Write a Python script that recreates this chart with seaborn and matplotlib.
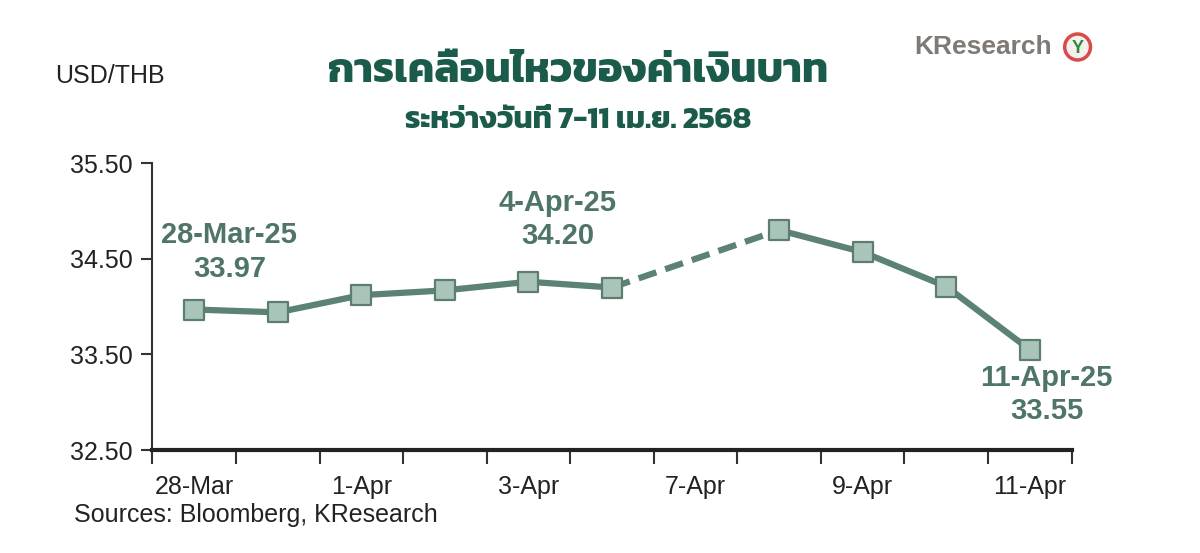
import matplotlib
matplotlib.use("Agg")
import numpy as np
import pandas as pd
import matplotlib.pyplot as plt
import seaborn as sns
from matplotlib.patches import Ellipse

dates = ["28-Mar", "31-Mar", "1-Apr", "2-Apr", "3-Apr", "4-Apr",
         "7-Apr", "8-Apr", "9-Apr", "10-Apr", "11-Apr"]
usdthb = [33.97, 33.94, 34.12, 34.17, 34.26, 34.20, np.nan,
          34.80, 34.57, 34.21, 33.55]
yticks = [32.50, 33.50, 34.50, 35.50]
labels = [("28-Mar-25", "33.97", 0), ("4-Apr-25", "34.20", 5), ("11-Apr-25", "33.55", 10)]

sns.set_theme(style="white")
plt.rcParams["font.family"] = ["Liberation Sans", "DejaVu Sans"]

df = pd.DataFrame({"pos": np.arange(len(dates)), "date": dates, "val": usdthb})
seg1 = df.iloc[0:6]
seg2 = df.iloc[7:11]
gap = df.iloc[[5, 7]]

fig = plt.figure(figsize=(12, 5.53), dpi=100)
ax = fig.add_axes([0.127, 0.186, 0.766, 0.519])

LINE = "#5b8273"
FACE = "#a9c5b9"
EDGE = "#5d7d70"

sns.lineplot(data=gap, x="pos", y="val", ax=ax, color=LINE, lw=4.5,
             linestyle=(0, (3, 1.5)), zorder=2)
for seg in (seg1, seg2):
    sns.lineplot(data=seg, x="pos", y="val", ax=ax, color=LINE, lw=4.5,
                 zorder=2)
sns.scatterplot(data=df.dropna(), x="pos", y="val", ax=ax, marker="s", s=190,
                color=FACE, edgecolor=EDGE, linewidth=1.6, zorder=3)

ax.set_xlim(-0.5, len(dates) - 0.5)
ax.set_ylim(yticks[0], yticks[-1])
ax.set_yticks(yticks)
ax.set_yticklabels([f"{v:.2f}" for v in yticks], fontsize=18, color="#222222")
ax.set_xticks(np.arange(-0.5, len(dates)))
ax.set_xticklabels([])
ax.set_xticks(np.arange(0, len(dates), 2), minor=True)
ax.set_xticklabels(dates[::2], minor=True, fontsize=18, color="#222222")
ax.tick_params(axis="x", which="major", direction="out", length=10, width=1.5,
               color="#333333", bottom=True)
ax.tick_params(axis="x", which="minor", length=0, pad=18, bottom=True)
ax.tick_params(axis="y", direction="out", length=8, width=1.5, color="#333333",
               left=True, pad=6)
ax.set_xlabel("")
ax.set_ylabel("")
for s in ("top", "right"):
    ax.spines[s].set_visible(False)
ax.spines["left"].set_color("#333333")
ax.spines["left"].set_linewidth(1.5)
ax.spines["bottom"].set_color("#222222")
ax.spines["bottom"].set_linewidth(3)
ax.grid(False)

TXT = "#4f7468"
offsets = {0: (0.42, 34.57), 5: (4.35, 34.91), 10: (10.2, 33.08)}
for d, v, i in labels:
    x, y = offsets[i]
    ax.text(x, y, f"{d}\n{v}", ha="center", va="center", fontsize=21,
            fontweight="bold", color=TXT, linespacing=1.25)

thai = ["Kanit", "DejaVu Sans"]
fig.text(0.482, 0.868, "การเคลื่อนไหวของค่าเงินบาท", ha="center", va="center",
         fontsize=30, fontweight="bold", color="#1b5b4b", family=thai)
fig.text(0.482, 0.782, "ระหว่างวันที่ 7-11 เม.ย. 2568", ha="center", va="center",
         fontsize=22, fontweight="bold", color="#1b5b4b", family=thai)
fig.text(0.046, 0.862, "USD/THB", ha="left", va="center", fontsize=18,
         color="#222222")
fig.text(0.062, 0.068, "Sources: Bloomberg, KResearch", ha="left", va="center",
         fontsize=18, color="#222222")
fig.text(0.762, 0.915, "KResearch", ha="left", va="center", fontsize=19,
         fontweight="bold", color="#7f7a75")
fig.patches.append(Ellipse((0.898, 0.915), 0.0215, 0.047,
                           transform=fig.transFigure,
                           facecolor="#f4f0ee", edgecolor="#d94a4a", lw=2.5))
fig.text(0.898, 0.913, "Y", ha="center", va="center", fontsize=13,
         fontweight="bold", color="#2e8b3e")

fig.savefig("out.png")
